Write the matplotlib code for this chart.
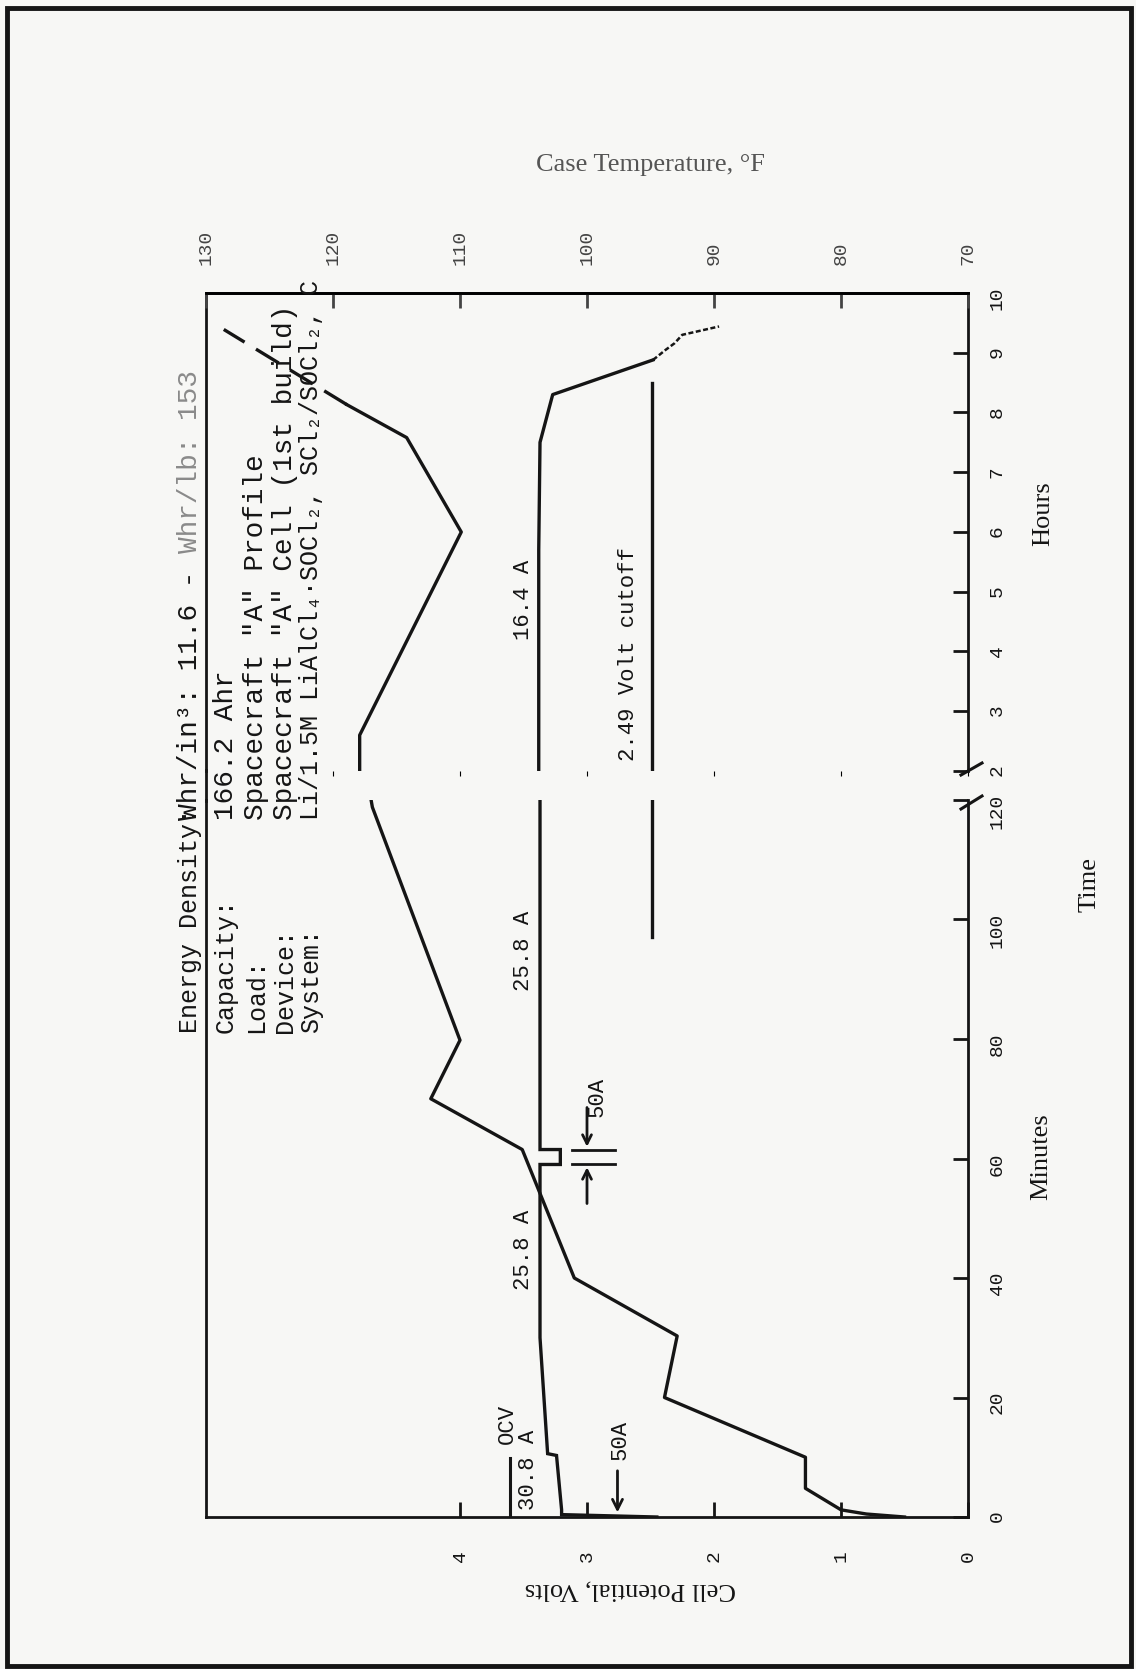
import numpy as np
import matplotlib.pyplot as plt
from matplotlib.lines import Line2D
from matplotlib.patches import Rectangle

# cell potential (V) against time, minutes part of the run
vm_t = [0, 0.4, 1.2, 10.3, 10.6, 30, 59, 59, 61.5, 61.5, 120]
vm_v = [2.45, 3.20, 3.20, 3.24, 3.31, 3.37, 3.37, 3.21, 3.21, 3.37, 3.37]
# cell potential, hours part
vh_t = [2.0, 5.7, 7.5, 8.3, 8.88, 9.05, 9.16, 9.30, 9.44]
vh_v = [3.38, 3.38, 3.37, 3.27, 2.48, 2.38, 2.31, 2.25, 1.96]

# case temperature (F), minutes part
tm_t = [0, 0.5, 1.2, 4.8, 10, 20, 30.3, 40, 61.5, 70, 79.8, 118.8, 120]
tm_T = [75.0, 78.0, 80.0, 82.8, 82.8, 93.9, 92.9, 101.0, 105.1, 112.3, 110.0, 116.9, 117.0]
# case temperature, hours part (solid, then dashed at the end)
th_t = [2.0, 2.6, 6.0, 7.58, 8.13]
th_T = [117.9, 117.9, 109.9, 114.2, 118.9]
thd_t = [8.13, 9.39]
thd_T = [118.9, 128.6]

v_cut = 2.49
cut_min = [97, 120]
cut_hr = [2.0, 8.5]
v_ocv = 3.61

v_ticks = [0, 1, 2, 3, 4]
temp_ticks = [130, 120, 110, 100, 90, 80, 70]
min_ticks = [0, 20, 40, 60, 80, 100, 120]
hr_ticks = [2, 3, 4, 5, 6, 7, 8, 9, 10]

W, H = 1136, 1669
fig = plt.figure(figsize=(W / 100, H / 100), dpi=100)
fig.patch.set_facecolor('#f7f7f5')

MONO = ['Liberation Mono', 'DejaVu Sans Mono']
SERIF = ['Liberation Serif', 'DejaVu Serif']
INK = '#151515'


def box(x0, y0, x1, y1):
    return [x0 / W, 1 - y1 / H, (x1 - x0) / W, (y1 - y0) / H]


def ftext(x, y, s, **kw):
    fig.text(x / W, 1 - y / H, s, **kw)


def fline(xs, ys, **kw):
    fig.add_artist(Line2D([x / W for x in xs], [1 - y / H for y in ys],
                          transform=fig.transFigure, **kw))


ax_m = fig.add_axes(box(206, 800, 968, 1517))
ax_h = fig.add_axes(box(206, 293, 968, 771))

for ax in (ax_m, ax_h):
    ax.set_facecolor('none')
    ax.set_xlim(6, 0)
    for s in ax.spines.values():
        s.set_linewidth(2.0)
        s.set_color(INK)
    ax.tick_params(axis='y', left=False, labelleft=False, right=True, labelright=True,
                   direction='in', length=11, width=2, pad=15, labelrotation=90,
                   labelsize=14, colors=INK)

ax_m.spines['top'].set_visible(False)
ax_h.spines['bottom'].set_visible(False)

ax_m.set_ylim(0, 120)
ax_m.set_yticks(min_ticks)
ax_m.set_xticks(v_ticks)
ax_m.set_xticklabels([str(v) for v in v_ticks], family=MONO)
ax_m.tick_params(axis='x', direction='in', length=11, width=2, pad=24,
                 labelrotation=90, labelsize=14, colors=INK)
ax_m.set_yticklabels([str(t) for t in min_ticks], family=MONO)

ax_h.set_ylim(2, 10)
ax_h.set_yticks(hr_ticks)
ax_h.set_yticklabels([str(t) for t in hr_ticks], family=MONO)
ax_h.tick_params(axis='x', bottom=False, labelbottom=False)

# temperature scale shares the horizontal direction
ax_ht = ax_h.twiny()
ax_mt = ax_m.twiny()
for tw in (ax_ht, ax_mt):
    tw.set_xlim(130, 70)
    for s in tw.spines.values():
        s.set_visible(False)
ax_mt.tick_params(axis='x', top=False, labeltop=False)
ax_ht.spines['top'].set_visible(True)
ax_ht.spines['top'].set_linewidth(2.0)
ax_ht.set_xticks(temp_ticks)
ax_ht.set_xticklabels([str(t) for t in temp_ticks], family=MONO)
ax_ht.tick_params(axis='x', direction='in', length=11, width=2, pad=20,
                  labelrotation=90, labelsize=14, colors='#444444')

# curves
lw = 2.4
ax_m.plot(vm_v, vm_t, color=INK, lw=lw, solid_joinstyle='miter')
ax_h.plot(vh_v[:5], vh_t[:5], color=INK, lw=lw)
ax_h.plot(vh_v[4:], vh_t[4:], color=INK, lw=1.8, ls=(0, (2, 1)))
ax_mt.plot(tm_T, tm_t, color=INK, lw=lw)
ax_ht.plot(th_T, th_t, color=INK, lw=lw)
ax_ht.plot(thd_T, thd_t, color=INK, lw=lw, ls=(0, (8, 4)))

# voltage cutoff
ax_m.plot([v_cut, v_cut], cut_min, color=INK, lw=lw)
ax_h.plot([v_cut, v_cut], cut_hr, color=INK, lw=lw)

# OCV marker and 50 A pulse arrows
ax_m.plot([v_ocv, v_ocv], [0, 9.8], color=INK, lw=2.2)
ax_m.annotate('', xy=(2.76, 0.3), xytext=(2.76, 8.2),
              arrowprops=dict(arrowstyle='->', lw=2, color=INK, mutation_scale=18))
ax_m.plot([2.78, 3.12], [59, 59], color=INK, lw=2)
ax_m.plot([2.78, 3.12], [61.5, 61.5], color=INK, lw=2)
ax_m.annotate('', xy=(3.0, 59), xytext=(3.0, 52),
              arrowprops=dict(arrowstyle='->', lw=2, color=INK, mutation_scale=16))
ax_m.annotate('', xy=(3.0, 61.5), xytext=(3.0, 69),
              arrowprops=dict(arrowstyle='->', lw=2, color=INK, mutation_scale=16))

tk = dict(rotation=90, rotation_mode='anchor', ha='left', va='center',
          family=MONO, fontsize=16, color=INK)
ax_m.text(3.63, 12.3, 'OCV', **tk)
ax_m.text(3.46, 1.2, '30.8 A', **tk)
ax_m.text(2.74, 9.5, '50A', **tk)
ax_m.text(3.50, 38, '25.8 A', **tk)
ax_m.text(3.50, 88, '25.8 A', **tk)
ax_m.text(2.92, 67, '50A', **tk)
ax_h.text(3.50, 4.2, '16.4 A', **tk)
ax_h.text(2.67, 2.17, '2.49 Volt cutoff', **tk)

# frame continuation across the break, and break marks on the time axis
fline([206, 206], [770, 801], color=INK, lw=2.0)
fline([961, 982], [809, 796], color=INK, lw=2.2)
fline([961, 982], [775, 763], color=INK, lw=2.2)

# axis titles
ftext(630, 1590, 'Cell Potential, Volts', rotation=180, ha='center', va='center',
      family=SERIF, fontsize=19, color=INK)
ftext(650, 165, 'Case Temperature, \u00b0F', ha='center', va='center',
      family=SERIF, fontsize=19, color='#555555')
ftext(1041, 1157, 'Minutes', rotation=90, ha='center', va='center',
      family=SERIF, fontsize=19, color=INK)
ftext(1043, 514, 'Hours', rotation=90, ha='center', va='center',
      family=SERIF, fontsize=19, color=INK)
ftext(1090, 884, 'Time', rotation=90, ha='center', va='center',
      family=SERIF, fontsize=19, color=INK)

# cell description block
labels = ['System:', 'Device:', 'Load:', 'Capacity:', 'Energy Density:']
values = ['Li/1.5M LiAlCl\u2084\u00b7SOCl\u2082, SCl\u2082/SOCl\u2082, C',
          'Spacecraft "A" Cell (1st build)',
          'Spacecraft "A" Profile',
          '166.2 Ahr',
          'Whr/in\u00b3: 11.6 - ']
val_size = [18, 20, 20, 20, 20]
rows_x = [311, 285, 256, 226, 190]
rt = dict(rotation=90, rotation_mode='anchor', ha='left', va='center', family=MONO)
for x, lab, val, fs in zip(rows_x, labels, values, val_size):
    ftext(x, 1033, lab, fontsize=18, color=INK, **rt)
    ftext(x, 820, val, fontsize=fs, color=INK, **rt)
# per-pound figure is fainter, continuing the last row
adv = 0.6 * 20 * 100 / 72
ftext(rows_x[-1], 820 - len(values[-1]) * adv, 'Whr/lb: 153', fontsize=20,
      color='#8a8a8a', **rt)

# page border
fig.add_artist(Rectangle((7 / W, 1 - 1666 / H), 1124 / W, 1658 / H,
                         transform=fig.transFigure, fill=False, lw=3.5, ec=INK))

fig.savefig('out.png', dpi=100, facecolor=fig.get_facecolor())
